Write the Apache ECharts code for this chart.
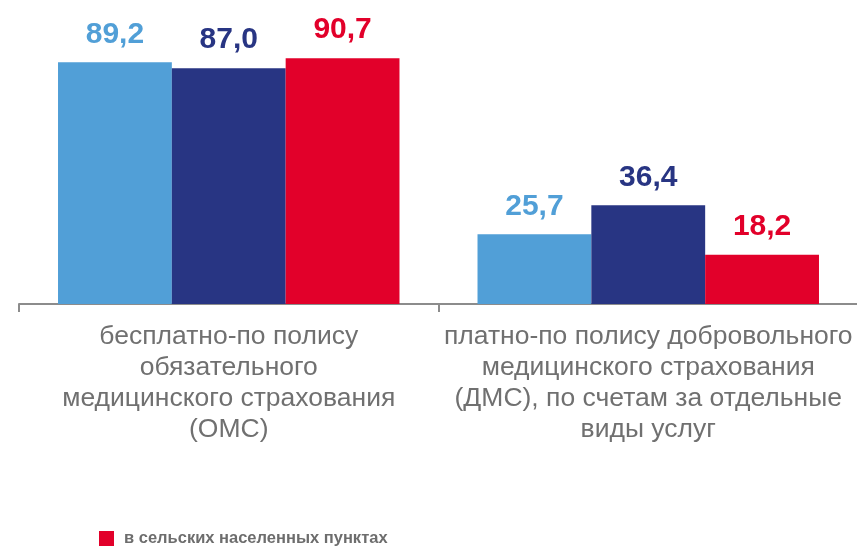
<!DOCTYPE html>
<html>
<head>
<meta charset="utf-8">
<script src="https://cdn.jsdelivr.net/npm/echarts@6/dist/echarts.min.js"></script>
<style>
html,body{margin:0;padding:0;background:#fff;overflow:hidden;}
#chart{width:880px;height:556px;}
</style>
</head>
<body>
<div id="chart"></div>
<script>
const categories = [
  "бесплатно-по полису\nобязательного\nмедицинского страхования\n(ОМС)",
  "платно-по полису добровольного\nмедицинского страхования\n(ДМС), по счетам за отдельные\nвиды услуг"
];
const seriesNames = ["все домохозяйства", "в городских населенных пунктах", "в сельских населенных пунктах"];
const seriesColors = ["#519FD7", "#283583", "#E2002A"];
const allValues = [89.2, 25.7];
const urbanValues = [87.0, 36.4];
const ruralValues = [90.7, 18.2];
const seriesValues = [allValues, urbanValues, ruralValues];

const chart = echarts.init(document.getElementById('chart'));
const fmt = v => v.value.toFixed(1).replace('.', ',');
const legendText = { color: '#6d6d6d', fontSize: 16.5, fontWeight: 'bold', fontFamily: '"Liberation Sans", Arial, sans-serif', padding: [0, 0, 0, 5] };
chart.setOption({
  animation: false,
  grid: { left: 19, right: 22, top: 33, bottom: 252, containLabel: false },
  xAxis: {
    type: 'category',
    data: categories,
    axisLine: { lineStyle: { color: '#8c8c8c', width: 2 } },
    axisTick: { show: true, length: 8, lineStyle: { color: '#8c8c8c', width: 2 } },
    axisLabel: {
      color: '#707070', fontSize: 26.5, lineHeight: 31, margin: 17,
      fontFamily: '"Liberation Sans", Arial, sans-serif', interval: 0
    }
  },
  yAxis: {
    type: 'value', min: 0, max: 100, show: false,
    splitLine: { show: false }
  },
  legend: [
    {
      data: [seriesNames[0], seriesNames[1]],
      right: 864, top: 530, itemGap: 84, itemWidth: 15, itemHeight: 15, padding: 0,
      icon: 'rect',
      textStyle: legendText
    },
    {
      data: [seriesNames[2]],
      left: 99, top: 530, itemWidth: 15, itemHeight: 15, itemGap: 10, padding: 0,
      icon: 'rect',
      textStyle: legendText
    }
  ],
  series: seriesNames.map((n, i) => ({
    name: n,
    type: 'bar',
    data: seriesValues[i],
    barGap: '0%',
    barCategoryGap: '18.6%',
    itemStyle: { color: seriesColors[i] },
    label: {
      show: true, position: 'top', distance: 13,
      formatter: fmt,
      color: seriesColors[i], fontSize: 30, fontWeight: 'bold',
      fontFamily: '"Liberation Sans", Arial, sans-serif'
    }
  }))
});
</script>
</body>
</html>
